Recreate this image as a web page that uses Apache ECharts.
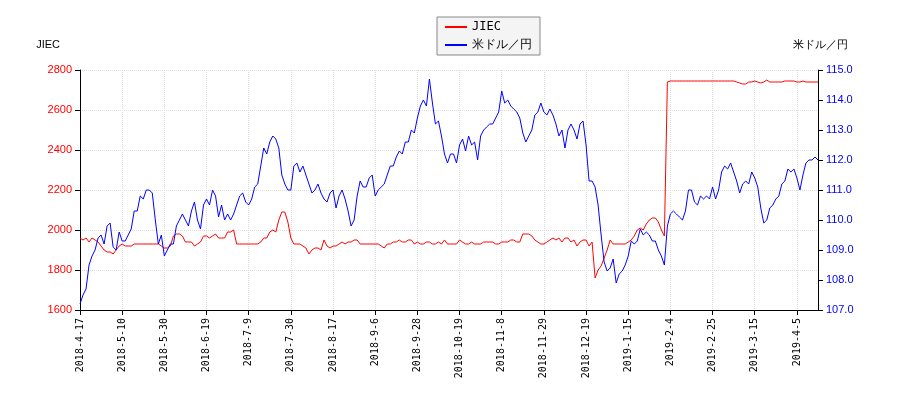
<!DOCTYPE html>
<html>
<head>
<meta charset="UTF-8">
<script src="https://cdn.jsdelivr.net/npm/echarts@6/dist/echarts.min.js"></script>
<style>
  * { margin: 0; padding: 0; }
  #chart { width: 900px; height: 400px; background: #fff; }
</style>
</head>
<body>
<div id="chart"></div>
<script>
  // 取引日（休場日を除く平日）
  var startDate = '2018-04-17';
  var endDate = '2019-04-16';
  var holidays = ['2018-04-30', '2018-05-03', '2018-05-04', '2018-07-16', '2018-09-17', '2018-09-24',
    '2018-10-08', '2018-11-23', '2018-12-24', '2019-01-01', '2019-01-02', '2019-01-03',
    '2019-01-14', '2019-02-11', '2019-03-21'];

  // JIEC 株価 (月ごと)
  var jiec = [].concat(
    [1960, 1950, 1960, 1940, 1960, 1950, 1940, 1920, 1900],
    [1890, 1890, 1880, 1900, 1920, 1930, 1920, 1920, 1920, 1930, 1930, 1930, 1930, 1930, 1930, 1930, 1930, 1930, 1920, 1910, 1910],
    [1920, 1970, 1980, 1980, 1970, 1940, 1940, 1940, 1920, 1930, 1940, 1970, 1970, 1960, 1970, 1980, 1960, 1960, 1960, 1990, 1990],
    [2000, 1930, 1930, 1930, 1930, 1930, 1930, 1930, 1930, 1940, 1960, 1960, 1990, 2000, 1990, 2050, 2090, 2090, 2040, 1960, 1930],
    [1930, 1930, 1920, 1910, 1880, 1900, 1910, 1910, 1900, 1950, 1920, 1910, 1920, 1920, 1930, 1940, 1930, 1940, 1940, 1950, 1950, 1930, 1930],
    [1930, 1930, 1930, 1930, 1930, 1920, 1910, 1930, 1930, 1940, 1940, 1950, 1940, 1940, 1950, 1950, 1930, 1940],
    [1930, 1930, 1940, 1940, 1930, 1930, 1940, 1930, 1950, 1930, 1930, 1930, 1930, 1950, 1940, 1930, 1930, 1940, 1930, 1930, 1930, 1940],
    [1940, 1940, 1940, 1930, 1930, 1940, 1940, 1940, 1950, 1950, 1940, 1940, 1980, 1980, 1980, 1970, 1950, 1940, 1930, 1930, 1940],
    [1950, 1960, 1950, 1960, 1940, 1960, 1960, 1940, 1950, 1920, 1940, 1950, 1950, 1920, 1940, 1760, 1800, 1820, 1860, 1900],
    [1950, 1930, 1930, 1930, 1930, 1930, 1940, 1950, 1970, 2000, 2010, 2000, 2030, 2050, 2060, 2060, 2040, 2000, 1970],
    [2740, 2745, 2745, 2745, 2745, 2745, 2745, 2745, 2745, 2745, 2745, 2745, 2745, 2745, 2745, 2745, 2745, 2745, 2745],
    [2745, 2745, 2745, 2745, 2740, 2735, 2730, 2730, 2740, 2740, 2745, 2740, 2735, 2740, 2750, 2740, 2740, 2740, 2740, 2740],
    [2745, 2745, 2745, 2745, 2740, 2740, 2745, 2740, 2740, 2740, 2740, 2740]
  );

  // 米ドル／円 (月ごと)
  var usdjpy = [].concat(
    [107.2, 107.5, 107.7, 108.5, 108.8, 109.0, 109.4, 109.5, 109.2],
    [109.8, 109.9, 109.1, 109.0, 109.6, 109.3, 109.3, 109.5, 109.7, 110.3, 110.3, 110.8, 110.7, 111.0, 111.0, 110.9, 110.0, 109.2, 109.5, 108.8, 109.0],
    [109.2, 109.2, 109.8, 110.0, 110.2, 110.0, 109.8, 110.3, 110.6, 110.0, 109.7, 110.5, 110.7, 110.5, 111.0, 110.8, 110.1, 110.5, 110.0, 110.2, 110.0],
    [110.2, 110.5, 110.8, 110.9, 110.6, 110.5, 110.7, 111.1, 111.2, 111.8, 112.4, 112.2, 112.6, 112.8, 112.7, 112.4, 111.5, 111.2, 111.0, 111.0, 111.8],
    [111.9, 111.6, 111.8, 111.5, 111.2, 110.9, 111.0, 111.2, 110.9, 110.7, 110.6, 110.9, 111.0, 110.4, 110.8, 111.0, 110.7, 110.3, 109.8, 110.0, 110.8, 111.3, 111.1],
    [111.1, 111.4, 111.5, 110.8, 111.0, 111.1, 111.2, 111.5, 111.8, 111.8, 112.1, 112.3, 112.2, 112.6, 112.6, 113.0, 112.9, 113.4],
    [113.8, 114.0, 113.8, 114.7, 113.9, 113.2, 113.3, 112.8, 112.2, 111.9, 112.2, 112.2, 111.9, 112.5, 112.7, 112.3, 112.8, 112.5, 112.6, 112.0, 112.8, 113.0],
    [113.1, 113.2, 113.2, 113.4, 113.6, 114.3, 113.9, 114.0, 113.8, 113.7, 113.6, 113.4, 112.9, 112.6, 112.8, 113.0, 113.5, 113.6, 113.9, 113.6, 113.5],
    [113.7, 113.5, 113.2, 112.8, 113.0, 112.4, 113.0, 113.2, 113.0, 112.7, 113.2, 113.3, 112.5, 111.3, 111.3, 111.1, 110.5, 109.5, 108.6, 108.3],
    [108.4, 108.7, 107.9, 108.2, 108.3, 108.5, 108.8, 109.3, 109.2, 109.3, 109.7, 109.5, 109.6, 109.5, 109.3, 109.3, 109.0, 108.8, 108.5],
    [109.8, 110.2, 110.3, 110.2, 110.1, 110.0, 110.3, 111.0, 111.0, 110.6, 110.5, 110.8, 110.7, 110.8, 110.7, 111.1, 110.7, 111.0, 111.6],
    [111.8, 111.7, 111.9, 111.6, 111.3, 110.9, 111.2, 111.3, 111.2, 111.6, 111.4, 111.1, 110.4, 109.9, 110.0, 110.4, 110.5, 110.7, 110.8, 111.2],
    [111.3, 111.7, 111.6, 111.7, 111.4, 111.0, 111.5, 111.9, 112.0, 112.0, 112.1, 112.0]
  );

  function tradingDays(s, e, hol) {
    var out = [];
    var d = new Date(s + 'T00:00:00Z');
    var end = new Date(e + 'T00:00:00Z');
    while (d <= end) {
      var wd = d.getUTCDay();
      var iso = d.toISOString().slice(0, 10);
      if (wd != 0 && wd != 6 && hol.indexOf(iso) < 0) {
        out.push(d.getUTCFullYear() + '-' + (d.getUTCMonth() + 1) + '-' + d.getUTCDate());
      }
      d.setUTCDate(d.getUTCDate() + 1);
    }
    return out;
  }
  var dates = tradingDays(startDate, endDate, holidays);

  var myChart = echarts.init(document.getElementById('chart'));
  var option = {
    animation: false,
    legend: {
      top: 17,
      left: 437,
      orient: 'vertical',
      itemWidth: 22,
      itemHeight: 2,
      itemGap: 6,
      padding: [4, 8],
      borderColor: '#888',
      borderWidth: 1,
      backgroundColor: '#f4f4f4',
      textStyle: { fontSize: 12, color: '#000', fontFamily: 'DejaVu Sans Mono' },
      data: [
        { name: 'JIEC', icon: 'rect' },
        { name: '米ドル／円', icon: 'rect' }
      ]
    },
    grid: { left: 80, right: 82, top: 70, bottom: 90 },
    xAxis: {
      type: 'category',
      data: dates,
      boundaryGap: false,
      axisLine: { lineStyle: { color: '#000' } },
      axisTick: { interval: 13, lineStyle: { color: '#000' } },
      axisLabel: { interval: 13, rotate: 90, fontSize: 10, color: '#000', fontFamily: 'DejaVu Sans Mono' },
      splitLine: { show: true, interval: 13, lineStyle: { color: '#ddd', type: 'dotted' } }
    },
    yAxis: [
      {
        type: 'value',
        name: 'JIEC',
        nameLocation: 'end',
        nameGap: 20,
        nameTextStyle: { color: '#000', fontSize: 11, align: 'right', padding: [0, 20, 0, 0] },
        min: 1600, max: 2800, interval: 200,
        axisLine: { show: true, lineStyle: { color: '#000' } },
        axisTick: { show: true },
        axisLabel: { color: 'red', fontSize: 11, formatter: function (v) { return String(v); } },
        splitLine: { lineStyle: { color: '#ddd', type: 'dotted' } }
      },
      {
        type: 'value',
        name: '米ドル／円',
        nameLocation: 'end',
        nameGap: 20,
        nameTextStyle: { color: '#000', fontSize: 11, align: 'left', padding: [0, 0, 0, -25] },
        min: 107, max: 115, interval: 1,
        axisLine: { show: true, lineStyle: { color: '#000' } },
        axisTick: { show: true },
        axisLabel: { color: 'blue', fontSize: 11, formatter: function (v) { return v.toFixed(1); } },
        splitLine: { show: false }
      }
    ],
    series: [
      {
        name: 'JIEC', type: 'line', data: jiec, yAxisIndex: 0,
        showSymbol: false, color: 'red', lineStyle: { width: 1 }
      },
      {
        name: '米ドル／円', type: 'line', data: usdjpy, yAxisIndex: 1,
        showSymbol: false, color: 'blue', lineStyle: { width: 1 }
      }
    ]
  };
  myChart.setOption(option);
</script>
</body>
</html>
